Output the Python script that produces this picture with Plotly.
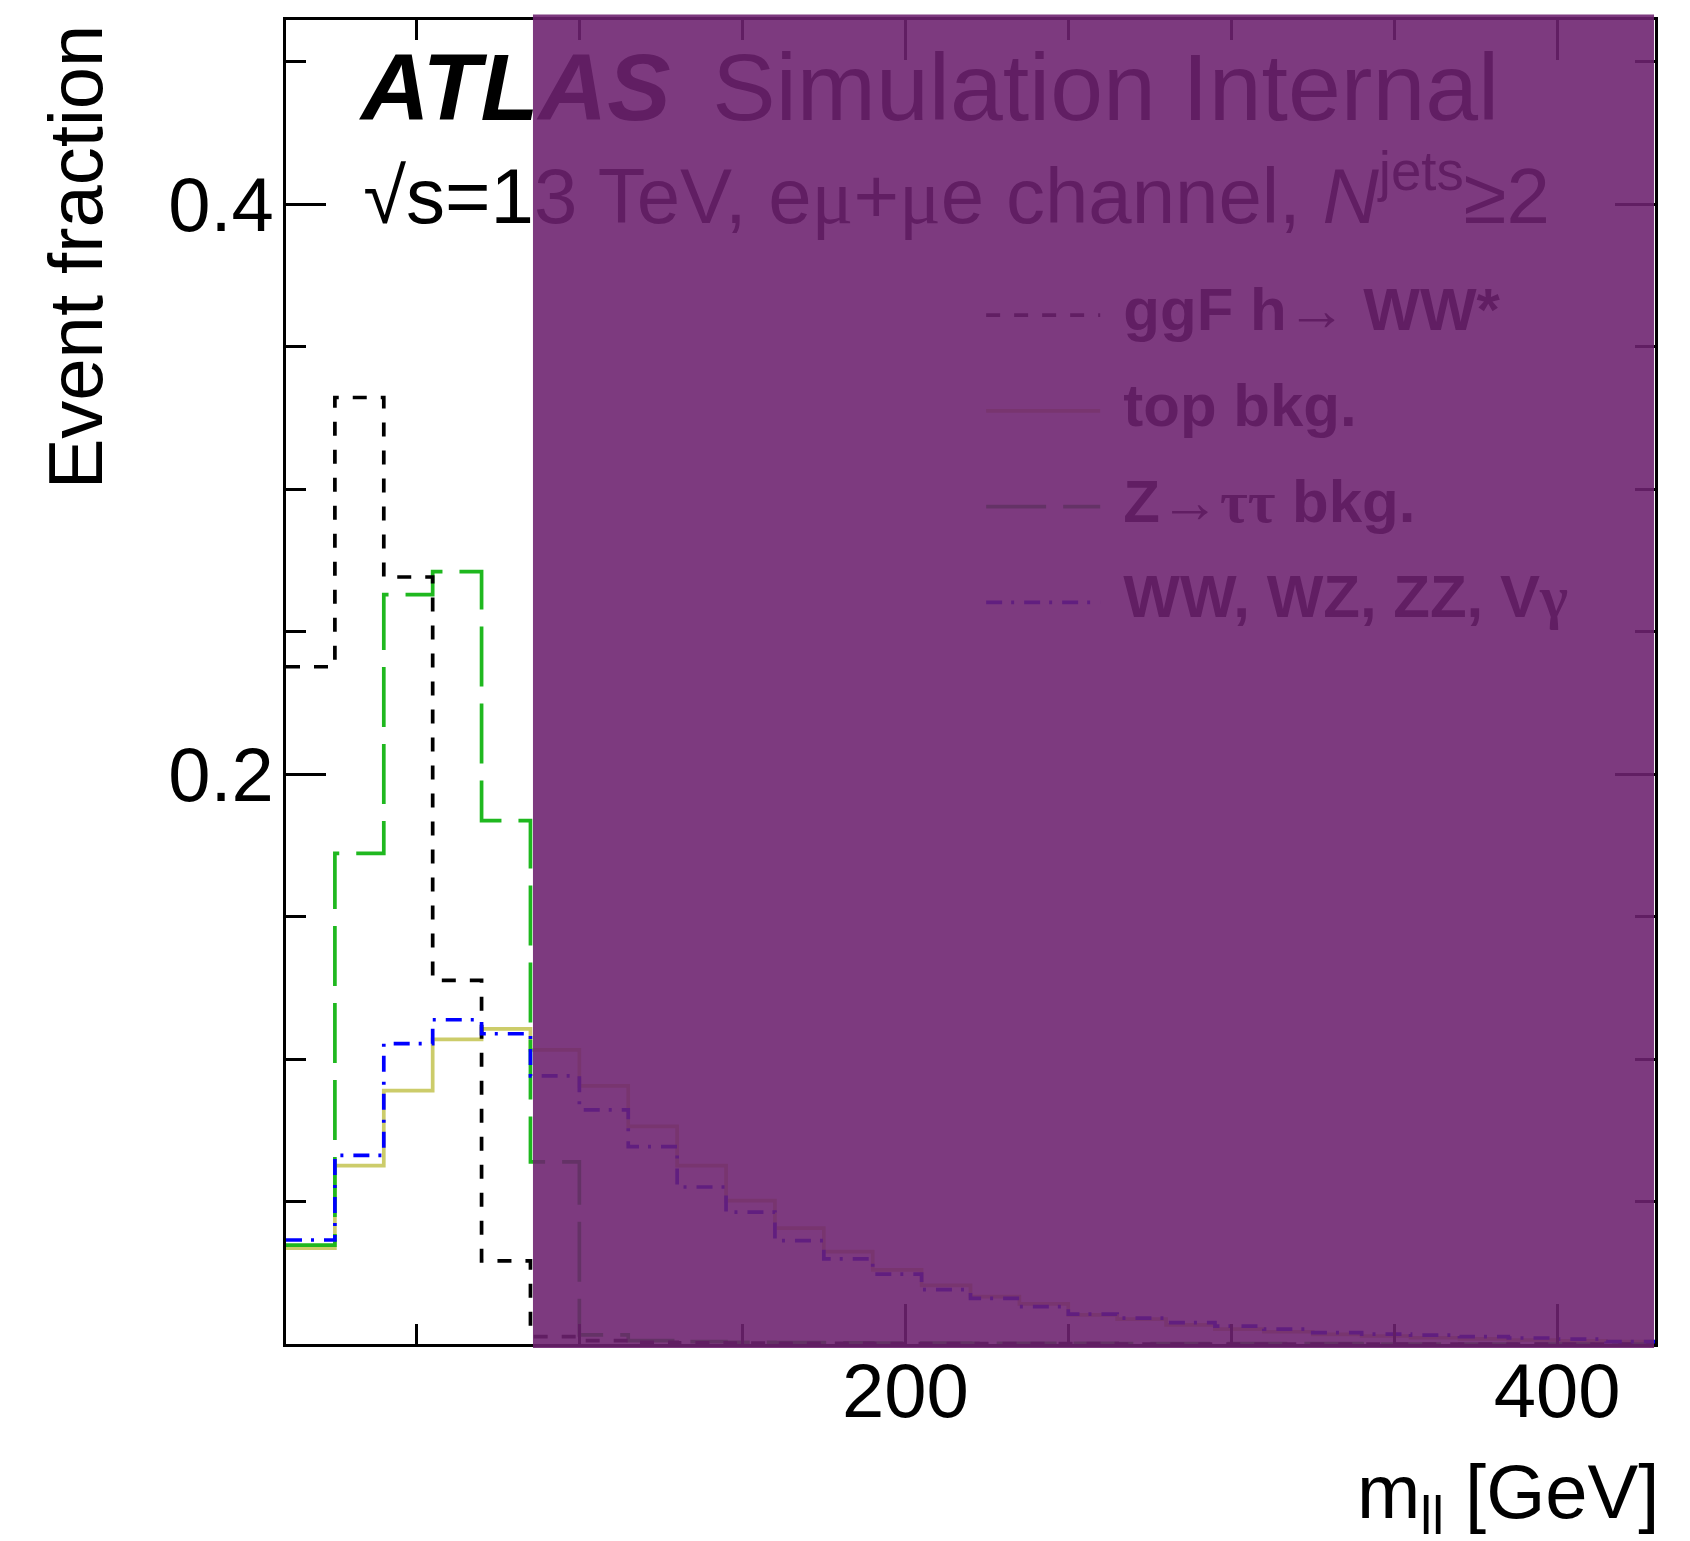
import plotly.graph_objects as go

# m_ll binning [GeV]
bin_edges = [10, 25, 40, 55, 70, 85, 100, 115, 130, 145, 160, 175, 190, 205, 220,
             235, 250, 265, 280, 295, 310, 325, 340, 355, 370, 385, 400, 415, 430]

# normalised event fractions per bin
ggf_hww = [0.2377, 0.3322, 0.2692, 0.1276, 0.0292, 0.0026, 0.0012, 0.0006, 0.0004, 0.0003,
           0.0002, 0.0002, 0.0001, 0.0001, 0.0001, 0.0001, 0.0001, 0.0, 0.0, 0.0,
           0.0, 0.0, 0.0, 0.0, 0.0, 0.0, 0.0, 0.0]
top_bkg = [0.0336, 0.0626, 0.0889, 0.1069, 0.1106, 0.1032, 0.0906, 0.0764, 0.0626, 0.0503,
           0.0407, 0.0324, 0.0260, 0.0206, 0.0166, 0.0141, 0.0102, 0.0087, 0.0067, 0.0052,
           0.0043, 0.0034, 0.0028, 0.0022, 0.0018, 0.0014, 0.0011, 0.0008]
ztautau_bkg = [0.0347, 0.1722, 0.2630, 0.2711, 0.1837, 0.0639, 0.0032, 0.0012, 0.0008, 0.0006,
               0.0005, 0.0004, 0.0003, 0.0003, 0.0002, 0.0002, 0.0002, 0.0001, 0.0001, 0.0001,
               0.0001, 0.0001, 0.0, 0.0, 0.0, 0.0, 0.0, 0.0]
diboson_bkg = [0.0365, 0.0662, 0.1054, 0.1138, 0.1089, 0.0941, 0.0822, 0.0693, 0.0551, 0.0463,
               0.0363, 0.0299, 0.0245, 0.0191, 0.0160, 0.0131, 0.0105, 0.0091, 0.0075, 0.0063,
               0.0052, 0.0040, 0.0035, 0.0031, 0.0026, 0.0021, 0.0017, 0.0008]

x_ticks = [200, 400]
y_ticks = [0.2, 0.4]

legend_labels = ["ggF h\u2192 WW*", "top bkg.",
                 "Z\u2192<span style='font-family:Liberation Serif'>\u03c4\u03c4</span> bkg.",
                 "WW, WZ, ZZ, V<span style='font-family:Liberation Serif'>\u03b3</span>"]

FONT = "Liberation Sans"
SERIF = "Liberation Serif"

# line styles, in legend order
styles = [
    dict(color="black", width=3.7, dash="14px,14px"),          # ggF h->WW*
    dict(color="#cccc6a", width=3.7, dash="solid"),             # top
    dict(color="#1fb81f", width=3.7, dash="60px,17px"),         # Z->tautau
    dict(color="#0000ff", width=3.7, dash="16px,9px,3px,10px"), # dibosons
]
series = [ggf_hww, top_bkg, ztautau_bkg, diboson_bkg]


def step_xy(values):
    """Outline of a histogram: one point per lower edge plus the last upper edge."""
    return list(bin_edges), list(values) + [values[-1]]


fig = go.Figure()

for idx in [1, 2, 0, 3]:
    xs, ys = step_xy(series[idx])
    fig.add_trace(go.Scatter(x=xs, y=ys, mode="lines", line=dict(shape="hv", **styles[idx]),
                             showlegend=False, hoverinfo="skip"))

# header text (drawn as text points so the shaded box lies on top of it)
fig.add_trace(go.Scatter(x=[33.0], y=[0.4379], mode="text", text=["<b><i>ATLAS</i></b>"],
                         textposition="middle right", cliponaxis=False,
                         textfont=dict(family=FONT, size=95, color="black"),
                         showlegend=False, hoverinfo="skip"))
fig.add_trace(go.Scatter(x=[140.8], y=[0.4379], mode="text", text=["Simulation Internal"],
                         textposition="middle right", cliponaxis=False,
                         textfont=dict(family=FONT, size=95, color="black"),
                         showlegend=False, hoverinfo="skip"))
fig.add_trace(go.Scatter(
    x=[33.7], y=[0.4004], mode="text",
    text=["\u221as=13 TeV, e<span style='font-family:%s'>\u03bc</span>+"
          "<span style='font-family:%s'>\u03bc</span>e channel, <i>N</i><sup>jets</sup>\u22652"
          % (SERIF, SERIF)],
    textposition="middle right", cliponaxis=False,
    textfont=dict(family=FONT, size=78, color="black"),
    showlegend=False, hoverinfo="skip"))

# hand-drawn legend with long line samples
LEG_X0, LEG_X1, LEG_TXT = 224.8, 259.8, 266.9
LEG_Y0, LEG_DY = 0.3611, 0.0336
for i, (lab, st) in enumerate(zip(legend_labels, styles)):
    yy = LEG_Y0 - i * LEG_DY
    fig.add_trace(go.Scatter(x=[LEG_X0, LEG_X1], y=[yy, yy], mode="lines", line=st,
                             showlegend=False, hoverinfo="skip"))
    fig.add_trace(go.Scatter(x=[LEG_TXT], y=[yy], mode="text", text=["<b>%s</b>" % lab],
                             textposition="middle right", cliponaxis=False,
                             textfont=dict(family=FONT, size=60, color="black"),
                             showlegend=False, hoverinfo="skip"))

axis_common = dict(
    showline=True, linewidth=3, linecolor="black", mirror="allticks",
    ticks="inside", ticklen=40, tickwidth=2.5, tickcolor="black",
    showgrid=False, zeroline=False,
    tickfont=dict(family=FONT, size=76, color="black"),
)

fig.update_xaxes(range=[10, 430], tickmode="array", tickvals=x_ticks,
                 ticktext=[str(v) for v in x_ticks], ticklabelstandoff=-21,
                 minor=dict(ticks="inside", ticklen=20, tickwidth=2.5, tickcolor="black",
                            tickmode="linear", tick0=0, dtick=50, showgrid=False),
                 **axis_common)
fig.update_yaxes(range=[0, 0.4647], tickmode="array", tickvals=y_ticks,
                 ticktext=["%.1f" % v for v in y_ticks], ticklabelstandoff=-6,
                 minor=dict(ticks="inside", ticklen=20, tickwidth=2.5, tickcolor="black",
                            tickmode="linear", tick0=0, dtick=0.05, showgrid=False),
                 **axis_common)

fig.add_annotation(text="Event fraction", textangle=-90, xref="paper", yref="paper",
                   x=-0.1535, y=0.9985, xanchor="center", yanchor="top", showarrow=False,
                   font=dict(family=FONT, size=76, color="black"))
fig.add_annotation(text="m<sub>ll</sub> [GeV]", xref="paper", yref="paper",
                   x=1.004, y=-0.1152, xanchor="right", yanchor="middle", showarrow=False,
                   borderpad=0, font=dict(family=FONT, size=76, color="black"))

# translucent purple box over the right part of the pad
fig.add_shape(type="rect", xref="paper", yref="paper", x0=0.1804, x1=0.9993,
              y0=-0.003, y1=1.0042, fillcolor="rgba(109,34,111,0.89)",
              line=dict(width=0), layer="above")

fig.update_layout(width=1690, height=1541, autosize=False,
                  margin=dict(l=286, r=35, t=20, b=197),
                  paper_bgcolor="white", plot_bgcolor="white",
                  font=dict(family=FONT, color="black"), showlegend=False)

fig.write_html("out.html")
